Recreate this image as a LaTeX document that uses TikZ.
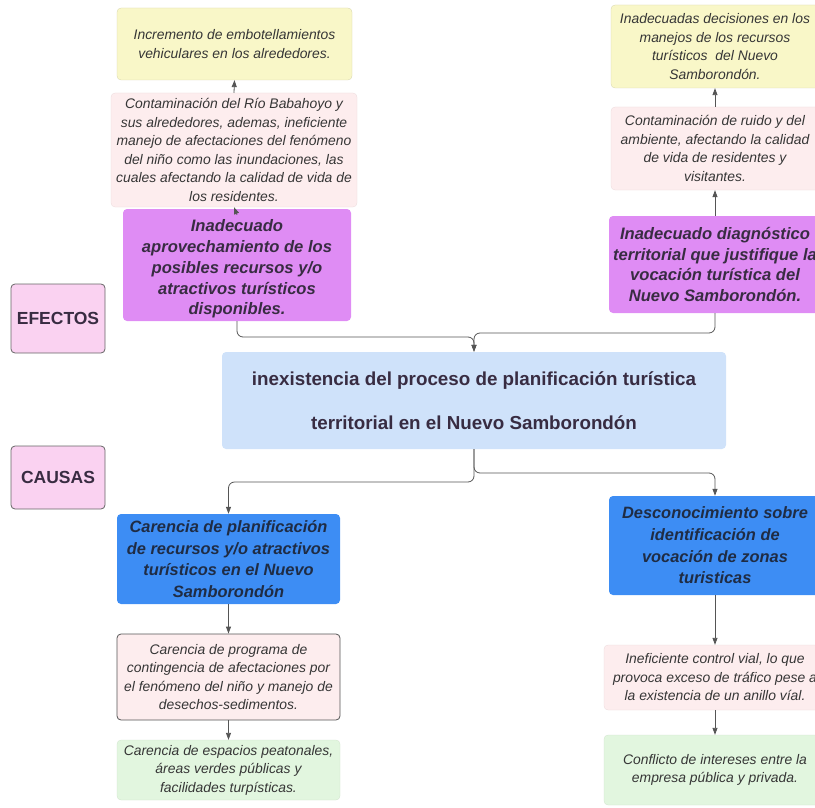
\documentclass[tikz,border=0pt]{standalone}
\usepackage{fontspec}
\setmainfont{Liberation Sans}
\usetikzlibrary{arrows.meta,calc}

\definecolor{txt}{HTML}{363636}
\definecolor{vtxt}{HTML}{382C42}
\definecolor{btxt}{HTML}{1F2C44}
\definecolor{yel}{HTML}{F9F7C8}
\definecolor{pnk}{HTML}{FDEDEE}
\definecolor{vio}{HTML}{DF8CF4}
\definecolor{lbl}{HTML}{FAD2F1}
\definecolor{cblue}{HTML}{CFE2FA}
\definecolor{dblue}{HTML}{3D8DF4}
\definecolor{grn}{HTML}{E2F6DF}
\definecolor{ln}{HTML}{555555}

\tikzset{
  box/.style={rounded corners=4pt, align=center, inner sep=0pt, text=txt},
  soft/.style={box, font=\fontsize{13.9}{18.5}\selectfont\itshape},
  yelbox/.style={soft, fill=yel, draw=yel!85!black, line width=0.3pt},
  pnkbox/.style={soft, fill=pnk, draw=pnk!92!black, line width=0.3pt},
  grnbox/.style={soft, fill=grn, draw=grn!92!black, line width=0.3pt},
  viobox/.style={box, fill=vio, text=vtxt, font=\fontsize{16.6}{20.8}\selectfont\bfseries\itshape},
  bluebox/.style={box, fill=dblue, text=btxt, font=\fontsize{16.4}{21.7}\selectfont\bfseries\itshape},
  tagbox/.style={box, fill=lbl, draw=ln!90, line width=0.8pt, text=vtxt, font=\fontsize{17.5}{20}\selectfont\bfseries},
  mainbox/.style={box, fill=cblue, text=vtxt, font=\fontsize{18.8}{44}\selectfont\bfseries},
  conn/.style={draw=ln, line width=0.8pt, rounded corners=6pt, -{Triangle[length=7pt,width=5pt]}},
}

\begin{document}
\begin{tikzpicture}[x=1pt,y=-1pt]
\useasboundingbox (0,0) rectangle (815,808);
\clip (0,0) rectangle (815,808);

% ---- effects, left column
\node[yelbox, minimum width=235pt, minimum height=72pt] (tly) at (234.5,44)
  {Incremento de embotellamientos\\vehiculares en los alrededores.};
\node[pnkbox, minimum width=246pt, minimum height=114pt] (tlp) at (234,150)
  {Contaminación del Río Babahoyo y\\sus alrededores, ademas, ineficiente\\manejo de afectaciones del fenómeno\\del niño como las inundaciones, las\\cuales afectando la calidad de vida de\\los residentes.};
\node[viobox, minimum width=228pt, minimum height=112pt] (tlv) at (237,265)
  {\rule{0pt}{20pt}Inadecuado\\aprovechamiento de los\\posibles recursos y/o\\atractivos turísticos\\disponibles.};

% ---- effects, right column
\node[yelbox, minimum width=208pt, minimum height=83pt] (try) at (715,46.5)
  {Inadecuadas decisiones en los\\manejos de los recursos\\turísticos\ \ del Nuevo\\Samborondón.};
\node[pnkbox, minimum width=208pt, minimum height=83pt] (trp) at (715,148.5)
  {Contaminación de ruido y del\\ambiente, afectando la calidad\\de vida de residentes y\\visitantes.};
\node[viobox, minimum width=212pt, minimum height=97pt] (trv) at (715,264.5)
  {Inadecuado diagnóstico\\territorial que justifique la\\vocación turística del\\Nuevo Samborondón.};

% ---- row labels
\node[tagbox, minimum width=94pt, minimum height=69pt] (efe) at (58,318.5) {EFECTOS};
\node[tagbox, minimum width=94pt, minimum height=63pt] (cau) at (58,477.5) {CAUSAS};

% ---- central problem
\node[mainbox, minimum width=504pt, minimum height=97pt] (core) at (474,400.5)
  {inexistencia del proceso de planificación turística\\territorial en el Nuevo Samborondón};

% ---- causes, left column
\node[bluebox, minimum width=223pt, minimum height=90pt] (blc) at (228.5,559)
  {Carencia de planificación\\de recursos y/o atractivos\\turísticos en el Nuevo\\Samborondón};
\node[soft, fill=pnk, draw=ln, line width=0.8pt, minimum width=223pt, minimum height=86pt] (plc) at (228.5,677)
  {Carencia de programa de\\contingencia de afectaciones por\\el fenómeno del niño y manejo de\\desechos-sedimentos.};
\node[grnbox, minimum width=223pt, minimum height=60pt] (glc) at (228.5,770)
  {Carencia de espacios peatonales,\\áreas verdes públicas y\\facilidades turpísticas.};

% ---- causes, right column
\node[bluebox, minimum width=212pt, minimum height=99pt] (brc) at (715,545.5)
  {Desconocimiento sobre\\identificación de\\vocación de zonas\\turisticas};
\node[pnkbox, minimum width=222pt, minimum height=65pt] (prc) at (715,677.5)
  {Ineficiente control vial, lo que\\provoca exceso de tráfico pese a\\la existencia de un anillo víal.};
\node[grnbox, minimum width=222pt, minimum height=70pt] (grc) at (715,770)
  {Conflicto de intereses entre la\\empresa pública y privada.};

% ---- connectors: effect chains
\draw[conn] ([yshift=-6pt]tlv.north) -- (tlp.south);
\draw[conn] (tlp.north) -- (tly.south);
\draw[conn] (trv.north) -- (trp.south);
\draw[conn] (trp.north) -- (try.south);

% ---- connectors: effects into the central problem
\draw[conn] (tlv.south) -- (tlv.south |- 0,337) -| (core.north);
\draw[conn] (trv.south) -- (trv.south |- 0,333) -| (core.north);

% ---- connectors: central problem into causes
\draw[conn] (core.south) -- (core.south |- 0,482) -| (blc.north);
\draw[conn] (core.south) -- (core.south |- 0,473) -| (brc.north);

% ---- connectors: cause chains
\draw[conn] (blc.south) -- (plc.north);
\draw[conn] (plc.south) -- (glc.north);
\draw[conn] (brc.south) -- (prc.north);
\draw[conn] (prc.south) -- (grc.north);
\end{tikzpicture}
\end{document}
